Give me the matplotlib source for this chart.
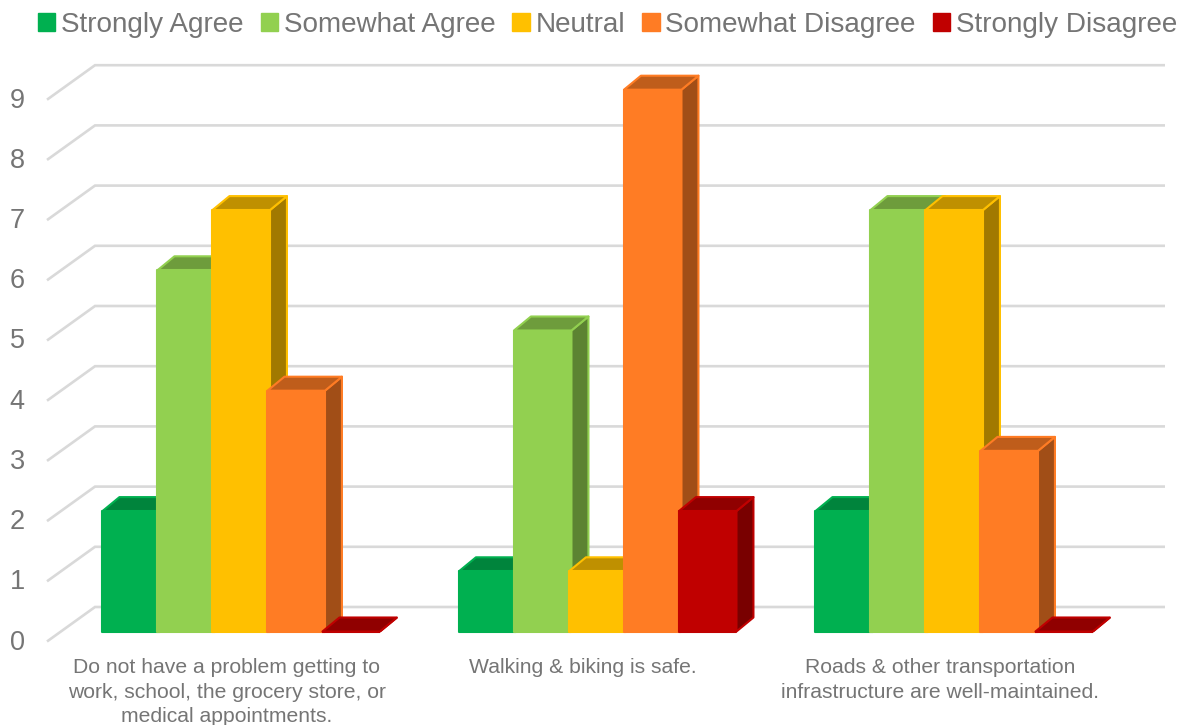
import matplotlib
matplotlib.use("Agg")
import matplotlib.pyplot as plt
from matplotlib.patches import Patch
from matplotlib.colors import to_rgb

categories = ["Do not have a problem getting to\nwork, school, the grocery store, or\nmedical appointments.",
              "Walking & biking is safe.",
              "Roads & other transportation\ninfrastructure are well-maintained."]
strongly_agree = [2, 1, 2]
somewhat_agree = [6, 5, 7]
neutral = [7, 1, 7]
somewhat_disagree = [4, 9, 3]
strongly_disagree = [0, 2, 0]
series_names = ["Strongly Agree", "Somewhat Agree", "Neutral", "Somewhat Disagree", "Strongly Disagree"]
series_values = [strongly_agree, somewhat_agree, neutral, somewhat_disagree, strongly_disagree]
series_colors = ["#00B050", "#92D050", "#FFC000", "#FF7C24", "#C00000"]
y_ticks = list(range(10))

plt.rcParams['font.family'] = ['Liberation Sans', 'DejaVu Sans']
W, H = 1185, 725
TEXT = "#757575"
GRID = "#D9D9D9"
PX_Y = 60.2           # pixels per value unit
PX_X = 356.5          # pixels per category
Y0 = 631.5            # pixel row of value 0 at bar front
X0 = 241.2            # pixel column of first category centre
AX_L, AX_R, AX_T, AX_B = 47, 1165, 45, 650

fig = plt.figure(figsize=(W / 100, H / 100), dpi=100, facecolor="white")
ax = fig.add_axes([AX_L / W, 1 - AX_B / H, (AX_R - AX_L) / W, (AX_B - AX_T) / H])
ax.set_xlim((AX_L - X0) / PX_X, (AX_R - X0) / PX_X)
ax.set_ylim((Y0 - AX_B) / PX_Y, (Y0 - AX_T) / PX_Y)
for s in ax.spines.values():
    s.set_visible(False)
ax.set_facecolor("none")

def dx(px):
    return px / PX_X
def dy(px):
    return px / PX_Y

# walls: floor/back gridlines
x_front, x_back, x_right = ax.get_xlim()[0], ax.get_xlim()[0] + dx(48), ax.get_xlim()[1]
for v in y_ticks:
    yb, yf = v + dy(24.5), v - dy(10)
    ax.plot([x_front, x_back, x_right], [yf, yb, yb], color=GRID, lw=1.9,
            solid_joinstyle="miter", solid_capstyle="butt", clip_on=False, zorder=1)

# bars, painted left to right
BAR_W = dx(57.5)
STRIDE = dx(55)
DEPTH_X, DEPTH_Y = dx(17), dy(14)
LW = 1.5
z = 2
n = len(series_names)
for c in range(len(categories)):
    for i, (vals, col) in enumerate(zip(series_values, series_colors)):
        v = vals[c]
        left = c + (i - (n - 1) / 2) * STRIDE - BAR_W / 2
        right = left + BAR_W
        rgb = to_rgb(col)
        top_c = tuple(k * 0.75 for k in rgb)
        side_c = tuple(k * 0.63 for k in rgb)
        ax.fill([right, right + DEPTH_X, right + DEPTH_X, right],
                [0, DEPTH_Y, v + DEPTH_Y, v],
                facecolor=side_c, edgecolor=col, lw=LW, joinstyle="round", zorder=z)
        ax.fill([left, left + DEPTH_X, right + DEPTH_X, right],
                [v, v + DEPTH_Y, v + DEPTH_Y, v],
                facecolor=top_c, edgecolor=col, lw=LW, joinstyle="round", zorder=z + 0.1)
        ax.bar(left, v, width=BAR_W, align="edge", color=col, edgecolor=col, lw=LW,
               joinstyle="round", zorder=z + 0.2)
        z += 1

# value ticks
ax.set_yticks([v - dy(8) for v in y_ticks], [str(v) for v in y_ticks])
ax.tick_params(axis="y", length=0, pad=16, labelsize=19.5, labelcolor=TEXT)
# category ticks
ax.set_xticks([c - dx(14.5) for c in range(len(categories))], categories)
ax.tick_params(axis="x", length=0, pad=6, labelsize=15.25, labelcolor=TEXT)
for t in ax.get_xticklabels():
    t.set_linespacing(1.37)
    t.set_ha("center")

handles = [Patch(facecolor=c, edgecolor=c, lw=1.0, joinstyle="round") for c in series_colors]
leg = fig.legend(handles, series_names, loc="center", bbox_to_anchor=(607.5 / W, 1 - 25 / H),
                 ncol=5, frameon=False, fontsize=20.1, labelcolor=TEXT,
                 handlelength=0.62, handleheight=0.62, handletextpad=0.2,
                 columnspacing=0.62, borderpad=0, borderaxespad=0)

fig.savefig("out.png", dpi=100, facecolor="white")
